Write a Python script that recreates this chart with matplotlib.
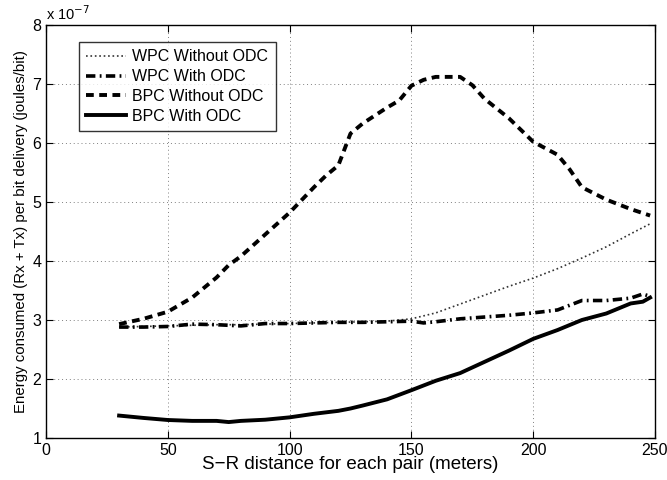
import matplotlib.pyplot as plt

plt.rcParams['font.family'] = ['Liberation Sans', 'DejaVu Sans']

# values in units of 1e-7 joules/bit
x_wpc_no = [30, 40, 50, 60, 70, 80, 90, 100, 110, 120, 130, 140, 150, 160, 170, 180, 190, 200, 210, 220, 230, 240, 248]
wpc_no = [2.88, 2.89, 2.90, 2.91, 2.92, 2.92, 2.93, 2.94, 2.95, 2.96, 2.97, 2.98, 3.02, 3.12, 3.27, 3.42, 3.57, 3.71, 3.87, 4.05, 4.24, 4.46, 4.63]

x_wpc = [30, 40, 50, 60, 70, 75, 80, 90, 100, 110, 120, 130, 140, 150, 155, 160, 170, 180, 190, 200, 210, 220, 230, 240, 245, 248]
wpc = [2.88, 2.88, 2.89, 2.93, 2.92, 2.91, 2.90, 2.94, 2.94, 2.95, 2.96, 2.96, 2.97, 2.98, 2.95, 2.97, 3.02, 3.05, 3.08, 3.12, 3.17, 3.33, 3.33, 3.37, 3.44, 3.40]

x_bpc_no = [30, 40, 50, 60, 70, 75, 80, 90, 100, 110, 115, 120, 125, 130, 140, 145, 150, 155, 160, 170, 175, 180, 190, 200, 210, 215, 220, 230, 240, 248]
bpc_no = [2.93, 3.02, 3.14, 3.38, 3.72, 3.93, 4.08, 4.45, 4.82, 5.25, 5.45, 5.62, 6.16, 6.33, 6.60, 6.72, 6.97, 7.07, 7.12, 7.12, 6.98, 6.75, 6.42, 6.02, 5.80, 5.55, 5.25, 5.04, 4.88, 4.77]

x_bpc = [30, 40, 50, 60, 70, 75, 80, 90, 100, 110, 120, 125, 130, 140, 150, 160, 170, 180, 190, 200, 210, 220, 230, 240, 245, 248]
bpc = [1.38, 1.34, 1.305, 1.29, 1.29, 1.27, 1.29, 1.31, 1.35, 1.41, 1.46, 1.50, 1.55, 1.655, 1.81, 1.97, 2.10, 2.29, 2.48, 2.68, 2.83, 3.00, 3.11, 3.28, 3.31, 3.38]

fig = plt.figure(figsize=(6.67, 4.8), dpi=100)
ax = fig.add_axes([0.069, 0.0875, 0.913, 0.8605])

ax.plot(x_wpc_no, wpc_no, color='#333333', linestyle=':', linewidth=1.2, label='WPC Without ODC')
ax.plot(x_wpc, wpc, color='black', linewidth=2.6, dashes=(2.6, 1.2, 0.5, 1.2), label='WPC With ODC')
ax.plot(x_bpc_no, bpc_no, color='black', linewidth=2.8, dashes=(2.0, 1.4), label='BPC Without ODC')
ax.plot(x_bpc, bpc, color='black', linestyle='-', linewidth=2.8, label='BPC With ODC')

ax.set_xlim(0, 250)
ax.set_ylim(1, 8)
ax.set_xticks([0, 50, 100, 150, 200, 250])
ax.set_yticks([1, 2, 3, 4, 5, 6, 7, 8])
ax.grid(True, linestyle=(0, (1, 3)), color='gray', linewidth=0.7)
ax.tick_params(direction='in', top=True, right=True, labelsize=11.5, length=5)
for s in ax.spines.values():
    s.set_linewidth(1.0)

ax.set_xlabel('S\u2212R distance for each pair (meters)', fontsize=13.5, labelpad=-1)
ax.set_ylabel('Energy consumed (Rx + Tx) per bit delivery (joules/bit)', fontsize=10.8, labelpad=3)
ax.text(0.0, 1.005, 'x 10$^{-7}$', transform=ax.transAxes, fontsize=10.5, ha='left', va='bottom')

leg = ax.legend(loc='upper left', bbox_to_anchor=(0.054, 0.958), fontsize=11.5, frameon=True,
                fancybox=False, edgecolor='black', handlelength=2.5, handletextpad=0.4,
                borderpad=0.45, labelspacing=0.3, borderaxespad=0)
leg.get_frame().set_linewidth(1.0)

fig.savefig('out.png', dpi=100)
